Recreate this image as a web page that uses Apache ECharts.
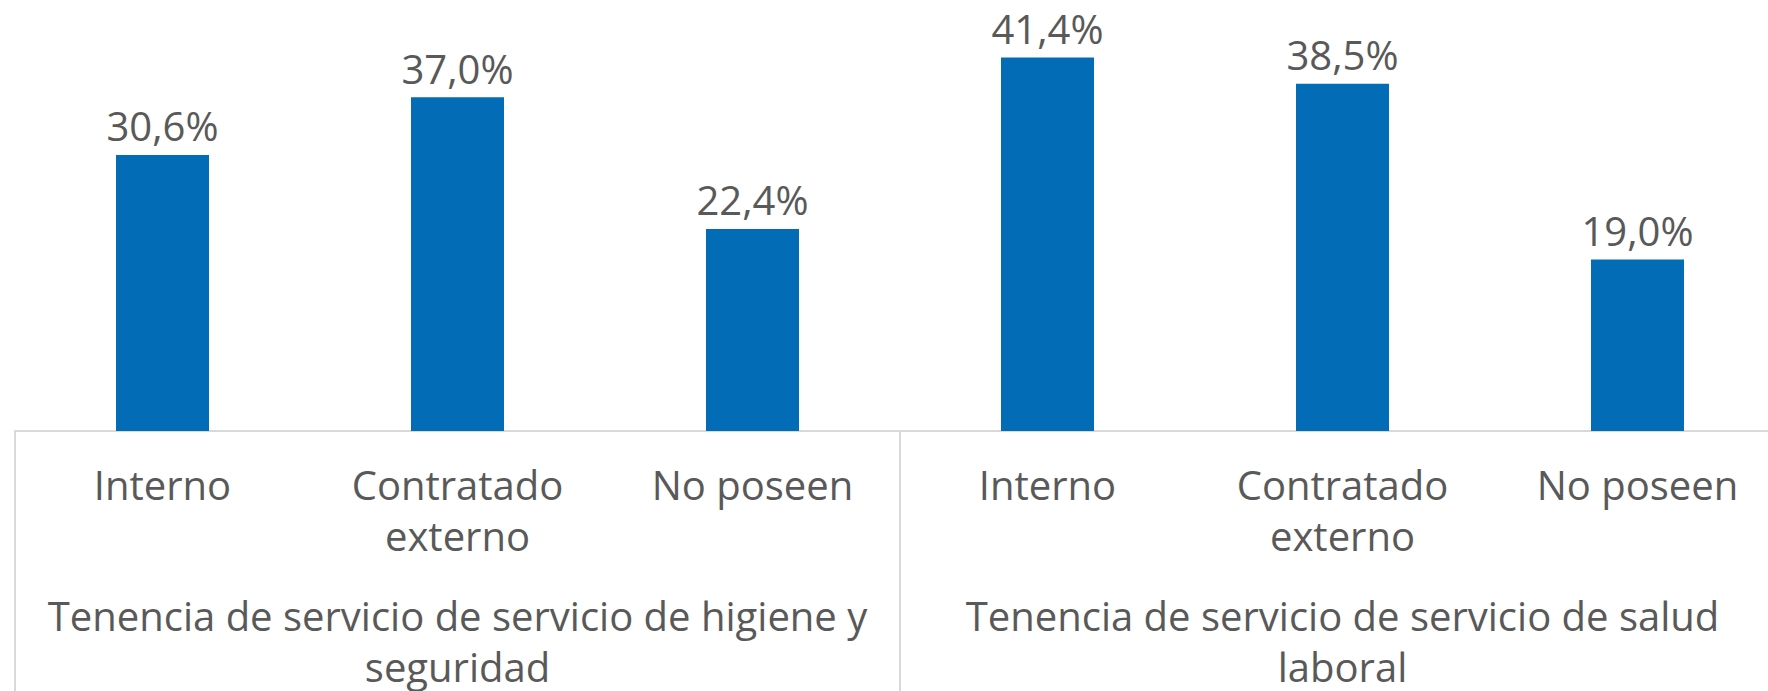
<!DOCTYPE html>
<html>
<head>
<meta charset="UTF-8">
<script src="https://cdn.jsdelivr.net/npm/echarts@6/dist/echarts.min.js"></script>
<style>
  html, body { margin: 0; padding: 0; background: #fff; }
  #main { width: 1768px; height: 691px; }
</style>
</head>
<body>
<div id="main"></div>
<script>
  // sub categories (bottom row of the axis) and their group labels
  const categories = ['Interno', 'Contratado\nexterno', 'No poseen', 'Interno', 'Contratado\nexterno', 'No poseen'];
  const groups = [
    'Tenencia de servicio de servicio de higiene y\nseguridad',
    'Tenencia de servicio de servicio de salud\nlaboral'
  ];
  const values = [30.6, 37.0, 22.4, 41.4, 38.5, 19.0];

  const textColor = '#595959';
  const lineColor = '#d9d9d9';
  const font = '"Open Sans", sans-serif';

  const chart = echarts.init(document.getElementById('main'), null, { renderer: 'svg' });
  chart.setOption({
    animation: false,
    grid: { left: 15, top: 25, width: 1770, height: 406, containLabel: false, outerBoundsMode: 'none' },
    xAxis: [
      {
        type: 'category',
        data: categories,
        axisLine: { show: true, lineStyle: { color: lineColor, width: 2 } },
        axisTick: { show: false },
        axisLabel: {
          interval: 0,
          margin: 28,
          color: textColor,
          fontFamily: font,
          fontSize: 40,
          lineHeight: 51
        }
      },
      {
        type: 'category',
        data: groups,
        position: 'bottom',
        axisLine: { show: false },
        axisTick: { show: true, length: 262, lineStyle: { color: lineColor, width: 2 } },
        axisLabel: {
          interval: 0,
          margin: 159,
          color: textColor,
          fontFamily: font,
          fontSize: 40,
          lineHeight: 51
        }
      }
    ],
    yAxis: { type: 'value', min: 0, max: 45, show: false },
    series: [{
      type: 'bar',
      data: values,
      barWidth: 93,
      itemStyle: { color: '#026cb6' },
      label: {
        show: true,
        position: 'top',
        distance: 9,
        color: textColor,
        fontFamily: font,
        fontSize: 40,
        lineHeight: 40,
        formatter: p => p.value.toFixed(1).replace('.', ',') + '%'
      }
    }]
  });
</script>
</body>
</html>
